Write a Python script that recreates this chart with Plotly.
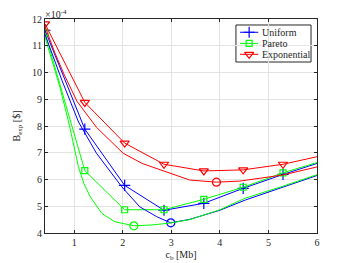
import plotly.graph_objects as go

# sampled curves (with markers)
x_samp = [0.4, 1.22, 2.04, 2.85, 3.67, 4.48, 5.3, 6.12]
uni_samp = [11.58, 7.88, 5.78, 4.85, 5.11, 5.67, 6.19, 6.67]
par_samp = [11.48, 6.33, 4.87, 4.87, 5.26, 5.71, 6.25, 6.70]
exp_samp = [11.82, 8.88, 7.36, 6.57, 6.32, 6.36, 6.57, 6.90]

# continuous curves
uni_x = [0.4, 0.75, 1.09, 1.46, 1.98, 2.35, 2.70, 2.99, 3.38, 4.0, 4.52, 5.3, 6.0]
uni_y = [11.42, 9.7, 8.15, 6.98, 5.73, 4.98, 4.61, 4.38, 4.51, 4.85, 5.23, 5.70, 6.15]
par_x = [0.4, 0.7, 0.9, 1.085, 1.2, 1.33, 1.57, 1.84, 2.23, 2.6, 2.97, 3.38, 4.0, 4.52, 5.3, 6.0]
par_y = [11.32, 9.5, 8.05, 6.5, 5.85, 5.36, 4.73, 4.42, 4.27, 4.30, 4.37, 4.50, 4.87, 5.30, 5.75, 6.18]
exp_x = [0.4, 0.6, 0.8, 1.06, 1.46, 2.01, 2.4, 2.77, 3.38, 3.93, 4.41, 5.3, 6.0]
exp_y = [11.72, 10.75, 9.9, 8.92, 7.95, 6.98, 6.6, 6.36, 5.98, 5.90, 5.94, 6.17, 6.47]

# minima
uni_min = (2.99, 4.38)
par_min = (2.23, 4.27)
exp_min = (3.93, 5.90)

x_ticks = [1, 2, 3, 4, 5, 6]
y_ticks = [4, 5, 6, 7, 8, 9, 10, 11, 12]

names = ["Uniform", "Pareto", "Exponential"]
colors = ["#0000ff", "#00ff00", "#ff0000"]
symbols = ["cross-thin-open", "square-open", "triangle-down-open"]
sizes = [8, 6, 8]

fig = go.Figure()
samp = [uni_samp, par_samp, exp_samp]
conts = [(uni_x, uni_y), (par_x, par_y), (exp_x, exp_y)]
mins = [uni_min, par_min, exp_min]

for i in range(3):
    fig.add_trace(go.Scatter(
        x=x_samp, y=samp[i], mode="lines+markers", name=names[i], showlegend=False,
        line=dict(color=colors[i], width=1),
        marker=dict(symbol=symbols[i], size=sizes[i], color=colors[i],
                    line=dict(color=colors[i], width=1.2)),
    ))
for i in range(3):
    fig.add_trace(go.Scatter(
        x=conts[i][0], y=conts[i][1], mode="lines", showlegend=False,
        line=dict(color=colors[i], width=1),
    ))
    fig.add_trace(go.Scatter(
        x=[mins[i][0]], y=[mins[i][1]], mode="markers", showlegend=False,
        marker=dict(symbol="circle-open", size=8, color=colors[i],
                    line=dict(color=colors[i], width=1.2)),
    ))

font = dict(family="Liberation Serif", size=10, color="#262626")
axis_common = dict(
    showline=True, linecolor="#262626", linewidth=1, mirror="ticks",
    ticks="inside", ticklen=3, tickcolor="#262626",
    showgrid=True, gridcolor="#e3e3e3", gridwidth=1, zeroline=False,
    tickfont=font, automargin=False,
)
xaxis = dict(range=[0.4, 6], tickvals=x_ticks,
             title=dict(text="c<sub>b</sub> [Mb]", font=font, standoff=3),
             **axis_common)
yaxis = dict(range=[4, 12], tickvals=y_ticks,
             title=dict(text="B<sub>exp</sub> [$]", font=font, standoff=9),
             **axis_common)

fig.add_annotation(text="×10<sup>-4</sup>", xref="paper", yref="paper",
                   x=0, y=1, xanchor="left", yanchor="bottom",
                   showarrow=False, font=font, xshift=-2, yshift=-3)

# ---- compact legend (box, line samples, glyphs on a hidden overlay axis, labels)
leg_box = dict(x0=0.702, x1=0.978, y0=0.799, y1=0.972)
leg_rows = [0.938, 0.886, 0.835]
leg_line = (0.717, 0.784)
leg_text_x = 0.792

fig.add_shape(type="rect", xref="paper", yref="paper", layer="between",
              fillcolor="white", line=dict(color="#262626", width=1), **leg_box)
for i in range(3):
    fig.add_shape(type="line", xref="paper", yref="paper", layer="above",
                  x0=leg_line[0], x1=leg_line[1], y0=leg_rows[i], y1=leg_rows[i],
                  line=dict(color=colors[i], width=1))
    fig.add_annotation(text=names[i], xref="paper", yref="paper",
                       x=leg_text_x, y=leg_rows[i], xanchor="left", yanchor="middle",
                       showarrow=False, font=font)
    fig.add_trace(go.Scatter(
        x=[(leg_line[0] + leg_line[1]) / 2], y=[leg_rows[i]], mode="markers",
        xaxis="x2", yaxis="y2", showlegend=False, hoverinfo="skip",
        marker=dict(symbol=symbols[i], size=sizes[i], color=colors[i],
                    line=dict(color=colors[i], width=1.2)),
    ))

fig.update_layout(
    xaxis=xaxis, yaxis=yaxis,
    xaxis2=dict(overlaying="x", range=[0, 1], visible=False, automargin=False),
    yaxis2=dict(overlaying="y", range=[0, 1], visible=False, automargin=False),
    width=334, height=255,
    margin=dict(l=37, r=25, t=11, b=30),
    paper_bgcolor="white", plot_bgcolor="white",
    font=font,
    showlegend=False,
)

fig.write_html("out.html")
